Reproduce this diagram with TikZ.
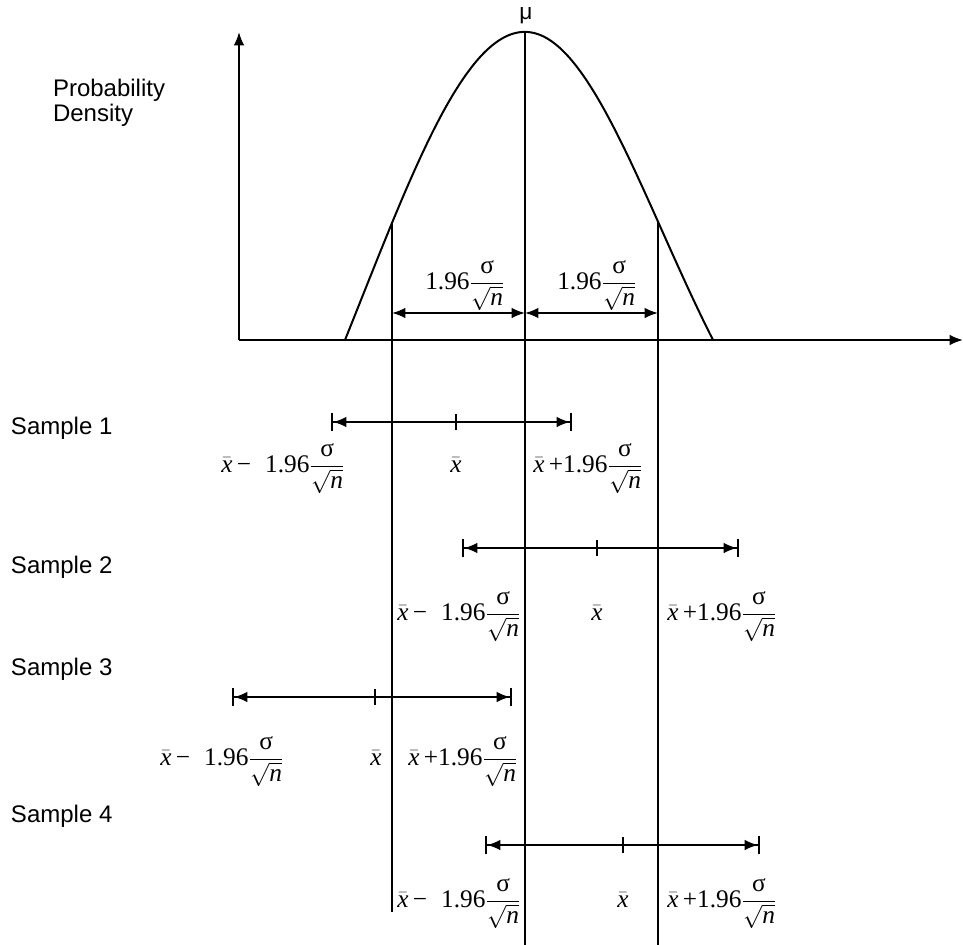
\documentclass[tikz,border=0pt]{standalone}
\usepackage{amsmath}
\usepackage{fontspec}
\setmainfont{Liberation Serif}
\newfontfamily\sansf{Liberation Sans}
\usetikzlibrary{arrows.meta}
\newcommand\myxb{\bar{\textit{x}}}
\newcommand\myfrac{\dfrac{\text{σ}}{\sqrt{\textit{n}}}}
\newcommand\labm{$\myxb\text{\,−\;\;1.96}\myfrac$}
\newcommand\labp{$\myxb\text{\,+1.96}\myfrac$}
\newcommand\labt{$\text{1.96}\myfrac$}
\newcommand\labx{$\myxb$}
\begin{document}
\begin{tikzpicture}[x=0.75pt,y=-0.75pt,
  line width=1.5pt,
  ci/.style={{Bar[width=14pt]Latex[length=10pt,width=8pt]}-{Latex[length=10pt,width=8pt]Bar[width=14pt]}},
  dbl/.style={{Latex[length=10pt,width=8pt]}-{Latex[length=10pt,width=8pt]}},
  axarrow/.style={-{Latex[length=10pt,width=8pt]}},
  lab/.style={anchor=base,inner sep=0pt,font=\fontsize{19}{22}\selectfont},
  samp/.style={anchor=base west,inner sep=0pt,font=\sansf\fontsize{18}{21}\selectfont},
]
\useasboundingbox (0,0) rectangle (963,945);

% axes
\coordinate (O) at (239,340);
\coordinate (Ytop) at (239,32);
\coordinate (Xend) at (963,340);
\draw[axarrow] (O) -- (Ytop);
\draw[axarrow] (O) -- (Xend);

% curve
\draw plot[domain=-1.80:0, samples=60, smooth] ({525+100*\x},{32+308*(1-(exp(-\x*\x/5.3138)-0.5435)/0.4565)});
\draw plot[domain=0:1.88, samples=60, smooth] ({525+100*\x},{32+308*(1-(exp(-\x*\x/3.7538)-0.390)/0.610)});

% vertical lines
\coordinate (L1) at (392,223);
\coordinate (L2) at (392,912);
\coordinate (C1) at (525,32);
\coordinate (C2) at (525,945);
\coordinate (R1) at (658,222);
\coordinate (R2) at (658,945);
\draw (L1) -- (L2);
\draw (C1) -- (C2);
\draw (R1) -- (R2);

% top double arrows
\coordinate (TL) at (392,313);
\coordinate (TC) at (525,313);
\coordinate (TR) at (658,313);
\draw[dbl] (TL) -- (TC);
\draw[dbl] (TC) -- (TR);
\node[lab] (t1) at (465,289) {\labt};
\node[lab] (t2) at (597,289) {\labt};

\node[inner sep=0pt,font=\sansf\fontsize{17}{20}\selectfont] (mu) at (526,16) {μ};
\node[samp] (pd1) at (52,97) {Probability};
\node[samp] (pd2) at (52,122) {Density};

% Sample 1
\node[samp] (s1) at (10,434) {Sample 1};
\coordinate (a1) at (331,422);
\coordinate (b1) at (572,422);
\coordinate (m1t) at (456,414);
\coordinate (m1b) at (456,430);
\draw[ci] (a1) -- (b1);
\draw (m1t) -- (m1b);
\node[lab] (l1) at (283,472) {\labm};
\node[lab] (x1) at (456,472) {\labx};
\node[lab] (r1) at (588,472) {\labp};

% Sample 2
\node[samp] (s2) at (10,573) {Sample 2};
\coordinate (a2) at (462,548);
\coordinate (b2) at (739,548);
\coordinate (m2t) at (597,540);
\coordinate (m2b) at (597,556);
\draw[ci] (a2) -- (b2);
\draw (m2t) -- (m2b);
\node[lab] (l2) at (459,620) {\labm};
\node[lab] (x2) at (597,620) {\labx};
\node[lab] (r2) at (722,620) {\labp};

% Sample 3
\node[samp] (s3) at (10,675) {Sample 3};
\coordinate (a3) at (232,697);
\coordinate (b3) at (512,697);
\coordinate (m3t) at (375,689);
\coordinate (m3b) at (375,705);
\draw[ci] (a3) -- (b3);
\draw (m3t) -- (m3b);
\node[lab] (l3) at (222,765) {\labm};
\node[lab] (x3) at (376,765) {\labx};
\node[lab] (r3) at (463,765) {\labp};

% Sample 4
\node[samp] (s4) at (10,822) {Sample 4};
\coordinate (a4) at (485,845);
\coordinate (b4) at (760,845);
\coordinate (m4t) at (623,837);
\coordinate (m4b) at (623,853);
\draw[ci] (a4) -- (b4);
\draw (m4t) -- (m4b);
\node[lab] (l4) at (459,907) {\labm};
\node[lab] (x4) at (623,907) {\labx};
\node[lab] (r4) at (722,907) {\labp};
\end{tikzpicture}
\end{document}
